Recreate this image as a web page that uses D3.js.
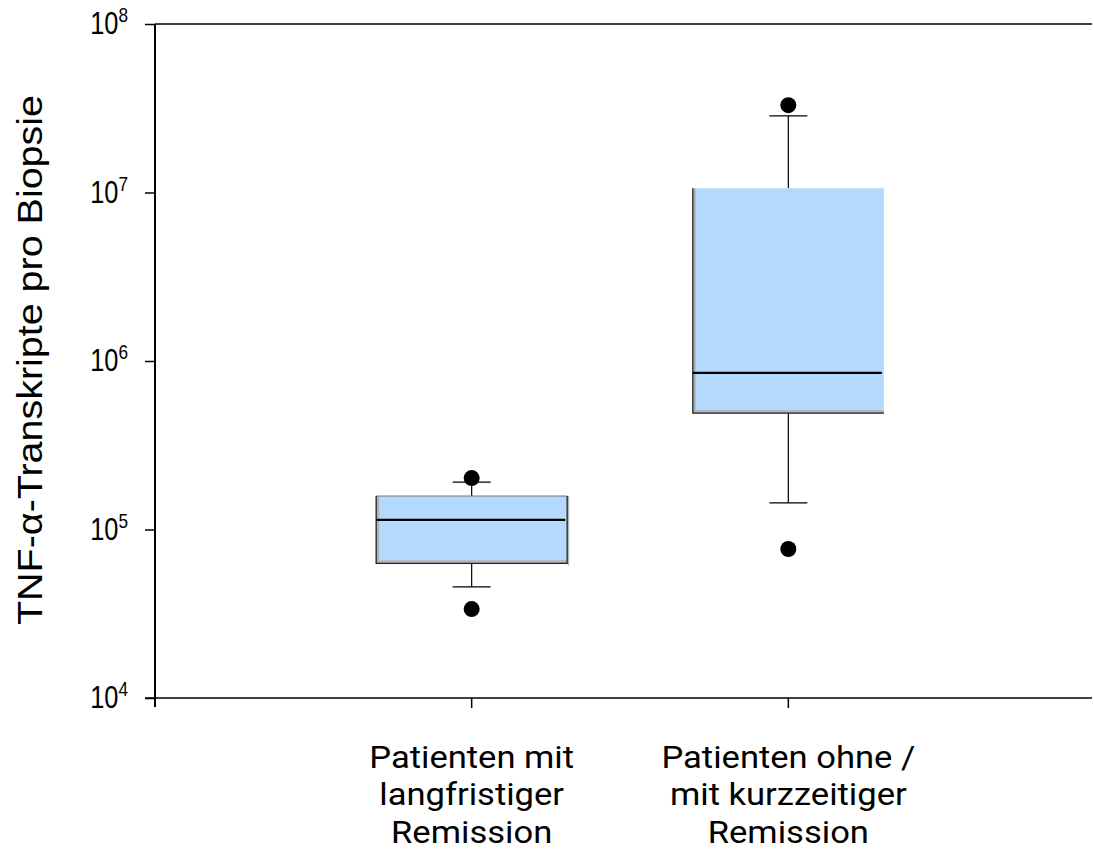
<!DOCTYPE html>
<head>
<meta charset="utf-8">
<script src="https://d3js.org/d3.v7.min.js"></script>
<style>
  body { margin: 0; background: #fff; }
  text { fill: #000; }
</style>
</head>
<body>
<svg id="chart" width="1094" height="850"></svg>
<script>
  // Box statistics
  const groups = [
    ["Patienten mit", "langfristiger", "Remission"],
    ["Patienten ohne /", "mit kurzzeitiger", "Remission"]
  ];
  const q1 = [6.3e4, 4.9e5];
  const median = [1.14e5, 8.5e5];
  const q3 = [1.58e5, 1.06e7];
  const whiskLow = [4.56e4, 1.44e5];
  const whiskHigh = [1.91e5, 2.85e7];
  const outliers = [[2.02e5, 3.37e4], [3.3e7, 7.66e4]];
  const yTicks = [1e4, 1e5, 1e6, 1e7, 1e8];

  const svg = d3.select("#chart");
  const mLeft = 155, mRight = 1092, mTop = 24, mBottom = 698;

  const y = d3.scaleLog().domain([1e4, 1e8]).range([mBottom, mTop]);
  const x = d3.scalePoint().domain([0, 1]).range([mLeft, 1105]).padding(1);
  const boxW = 191, capW = 38;

  // top frame line
  svg.append("line").attr("x1", mLeft).attr("x2", mRight).attr("y1", mTop).attr("y2", mTop)
    .attr("stroke", "#000").attr("stroke-width", 1.5);

  // y axis (line runs a little past the x axis)
  const yAxis = svg.append("g").attr("transform", `translate(${mLeft},0)`)
    .call(d3.axisLeft(y).tickValues(yTicks).tickSize(10).tickSizeOuter(0).tickFormat(""));
  yAxis.select(".domain").remove();
  yAxis.selectAll(".tick line").attr("stroke-width", 1.5);
  svg.append("line").attr("x1", mLeft).attr("x2", mLeft).attr("y1", mTop).attr("y2", mBottom + 9)
    .attr("stroke", "#000").attr("stroke-width", 2);
  // the source picture is squeezed sideways, so the labels are too
  yTicks.forEach(v => {
    const t = svg.append("text")
      .attr("transform", `translate(128,${y(v) + 10}) scale(0.82,1)`)
      .attr("text-anchor", "end")
      .style("font-family", "Liberation Sans, Arial, sans-serif")
      .style("font-size", "31px");
    t.append("tspan").text("10");
    t.append("tspan").attr("dy", -12).style("font-size", "21px").text(Math.round(Math.log10(v)));
  });

  // x axis
  svg.append("line").attr("x1", mLeft - 10).attr("x2", mRight).attr("y1", mBottom).attr("y2", mBottom)
    .attr("stroke", "#000").attr("stroke-width", 1.5);
  groups.forEach((g, i) => {
    svg.append("line").attr("x1", x(i)).attr("x2", x(i)).attr("y1", mBottom).attr("y2", mBottom + 10)
      .attr("stroke", "#000").attr("stroke-width", 1.5);
    const t = svg.append("text").attr("text-anchor", "middle")
      .attr("transform", `translate(${x(i)},0) scale(1.08,1)`)
      .style("font-family", "Roboto, sans-serif").style("font-size", "32px");
    g.forEach((line, j) => {
      t.append("tspan").attr("x", 0).attr("y", 768 + j * 37.5).text(line);
    });
  });

  svg.append("text")
    .attr("transform", `translate(42,360) rotate(-90)`)
    .attr("text-anchor", "middle")
    .attr("textLength", 530).attr("lengthAdjust", "spacingAndGlyphs")
    .style("font-family", "Liberation Sans, Arial, sans-serif")
    .style("font-size", "35px")
    .text("TNF-α-Transkripte pro Biopsie");

  // boxes: the first one has a full frame, the second only left and bottom edges
  const fullFrame = [true, false];
  groups.forEach((g, i) => {
    const cx = x(i);
    const x0 = cx - boxW / 2, x1 = cx + boxW / 2;
    const yt = y(q3[i]), yb = y(q1[i]);
    const g2 = svg.append("g");
    // whiskers
    g2.append("line").attr("x1", cx).attr("x2", cx).attr("y1", y(whiskHigh[i])).attr("y2", yt)
      .attr("stroke", "#000").attr("stroke-width", 1.2);
    g2.append("line").attr("x1", cx).attr("x2", cx).attr("y1", yb).attr("y2", y(whiskLow[i]))
      .attr("stroke", "#000").attr("stroke-width", 1.2);
    [whiskHigh[i], whiskLow[i]].forEach(v => {
      g2.append("line").attr("x1", cx - capW / 2).attr("x2", cx + capW / 2)
        .attr("y1", y(v)).attr("y2", y(v)).attr("stroke", "#000").attr("stroke-width", 1.2);
    });
    // box body
    g2.append("rect").attr("x", x0).attr("y", yt)
      .attr("width", boxW).attr("height", yb - yt)
      .attr("fill", "#b3d9fc");
    // shading strips
    g2.append("rect").attr("x", x0).attr("y", yt).attr("width", 3).attr("height", yb - yt)
      .attr("fill", "#b4b4b4");
    g2.append("rect").attr("x", x0).attr("y", yb - 3).attr("width", boxW).attr("height", 3)
      .attr("fill", "#b4b4b4");
    if (fullFrame[i]) {
      g2.append("rect").attr("x", x1 + 0.5).attr("y", yt).attr("width", 1.5).attr("height", yb - yt + 2)
        .attr("fill", "#b4b4b4");
      g2.append("line").attr("x1", x0).attr("x2", x1).attr("y1", yt).attr("y2", yt)
        .attr("stroke", "#777").attr("stroke-width", 1);
    }
    const d = fullFrame[i]
      ? `M${x0},${yt}V${yb}H${x1}V${yt}`
      : `M${x0},${yt}V${yb}H${x1}`;
    g2.append("path").attr("d", d)
      .attr("fill", "none").attr("stroke", "#222").attr("stroke-width", 1.3);
    // median
    g2.append("line").attr("x1", x0).attr("x2", x1 - 2).attr("y1", y(median[i])).attr("y2", y(median[i]))
      .attr("stroke", "#000").attr("stroke-width", 2.2);
    // outliers
    outliers[i].forEach(v => {
      g2.append("circle").attr("cx", cx).attr("cy", y(v)).attr("r", 8).attr("fill", "#000");
    });
  });
</script>
</body>
